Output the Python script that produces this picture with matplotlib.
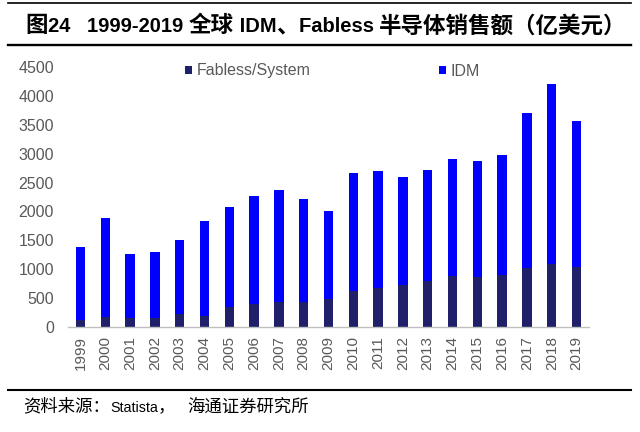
import numpy as np
import matplotlib
matplotlib.use("Agg")
import matplotlib.pyplot as plt
from matplotlib.lines import Line2D

plt.rcParams['font.family'] = ['Liberation Sans', 'Noto Sans CJK SC', 'DejaVu Sans']

years = [str(y) for y in range(1999, 2020)]
fabless = [116, 175, 146, 156, 215, 186, 342, 399, 434, 430, 486, 625, 666, 723,
           788, 880, 857, 902, 1013, 1083, 1031]
idm = [1272, 1711, 1121, 1135, 1289, 1643, 1740, 1874, 1938, 1791, 1527, 2050,
       2035, 1869, 1936, 2035, 2013, 2072, 2689, 3133, 2533]

# title / source split into latin and CJK runs (CJK set a bit larger, as in the source doc)
title_parts = [("图", 'cjk'), ("24   ", 'lat'), ("1999-2019 ", 'lat'), ("全球", 'cjk'),
               (" IDM", 'lat'), ("、", 'cjk'), ("Fabless ", 'lat'),
               ("半导体销售额（亿美元）", 'cjk')]
source_parts = [("资料来源：", 'cjk'), ("Statista", 'lat'), ("，", 'cjk'), ("   ", 'lat'),
                ("海通证券研究所", 'cjk')]

fig = plt.figure(figsize=(6.4, 4.32), dpi=100)
ax = fig.add_axes([68 / 640, 1 - 326.7 / 432, 521 / 640, 259.4 / 432])

x = np.arange(len(years))
w = 0.38
ax.bar(x, fabless, w, color='#20206a', label='Fabless/System')
ax.bar(x, idm, w, bottom=fabless, color='#0000ff', label='IDM')

ax.set_xlim(-0.5, len(years) - 0.5)
ax.set_ylim(0, 4500)
ax.set_yticks(np.arange(0, 4501, 500))
ax.set_xticks(x)
ax.set_xticklabels(years, rotation=90)
ax.tick_params(axis='y', length=0, pad=10, labelsize=11.5, labelcolor='#595959')
ax.tick_params(axis='x', length=0, pad=7, labelsize=11, labelcolor='#595959')
for s in ['top', 'right', 'left']:
    ax.spines[s].set_visible(False)
ax.spines['bottom'].set_color('#bfbfbf')
ax.spines['bottom'].set_linewidth(1)

fig.legend(loc='center left', bbox_to_anchor=(185 / 640, 1 - 71 / 432),
           ncol=2, frameon=False, fontsize=11.5, handlelength=0.45,
           handleheight=0.45, handletextpad=0.3, columnspacing=8.0,
           borderpad=0, borderaxespad=0, labelcolor='#595959')


def put_runs(x0, y, parts, lat_kw, cjk_kw):
    rend = fig.canvas.get_renderer()
    xx = x0
    for s, kind in parts:
        kw = lat_kw if kind == 'lat' else cjk_kw
        t = fig.text(xx, y, s, va='baseline', ha='left', color='black', **kw)
        xx += t.get_window_extent(rend).width / fig.bbox.width


put_runs(25 / 640, 1 - 32.3 / 432, title_parts,
         dict(fontsize=14.5, fontweight='bold', family='Liberation Sans'),
         dict(fontsize=16.2, fontweight='bold', family='Noto Sans CJK SC'))
put_runs(23 / 640, 1 - 411.5 / 432, source_parts,
         dict(fontsize=10.3, family='Liberation Sans'),
         dict(fontsize=12.5, family='Noto Sans CJK SC'))

fig.add_artist(Line2D([8 / 640, 631 / 640], [1 - 2.7 / 432] * 2, color='black', lw=1.2))
fig.add_artist(Line2D([8 / 640, 631 / 640], [1 - 44.5 / 432] * 2, color='black', lw=1.7))
fig.add_artist(Line2D([8 / 640, 631 / 640], [1 - 389.5 / 432] * 2, color='black', lw=1.5))

fig.savefig('out.png', dpi=100)
